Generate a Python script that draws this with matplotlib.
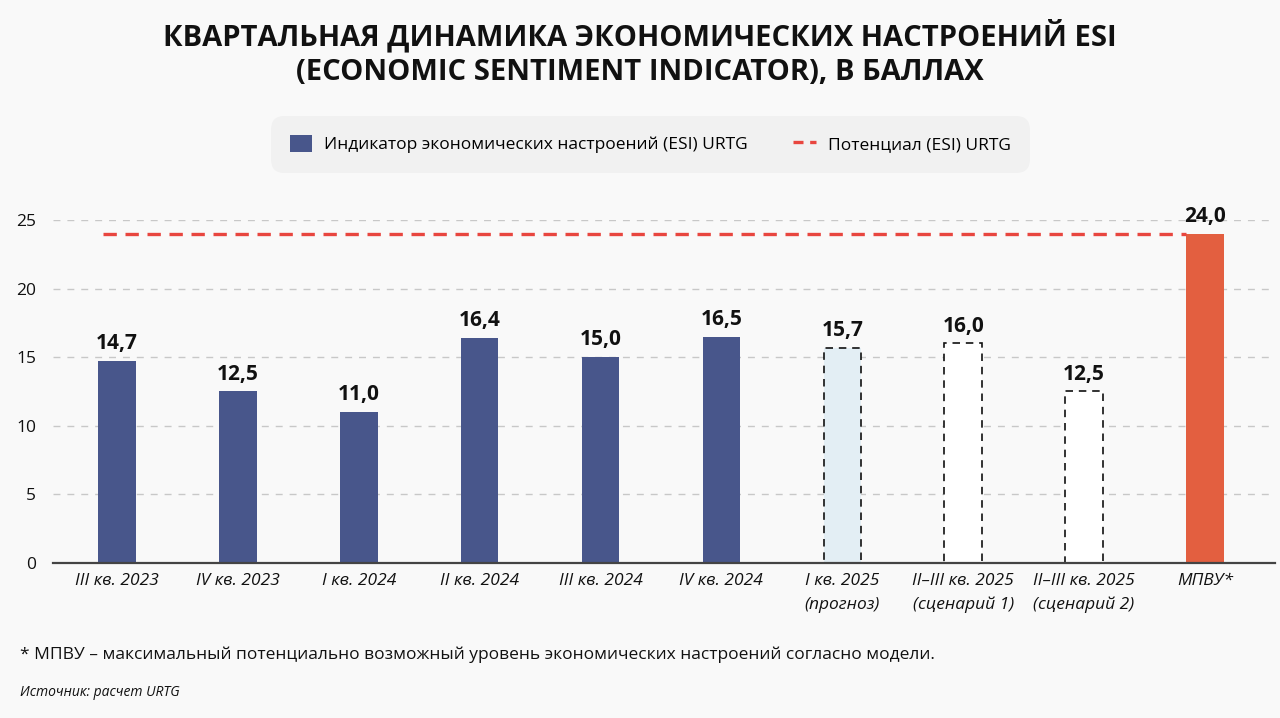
import matplotlib.pyplot as plt
from matplotlib.patches import Patch
from matplotlib.lines import Line2D

plt.rcParams['font.family'] = ['Open Sans', 'DejaVu Sans']

# data
categories = ["III кв. 2023", "IV кв. 2023", "I кв. 2024", "II кв. 2024", "III кв. 2024",
              "IV кв. 2024", "I кв. 2025\n(прогноз)", "II–III кв. 2025\n(сценарий 1)",
              "II–III кв. 2025\n(сценарий 2)", "МПВУ*"]
values = [14.7, 12.5, 11.0, 16.4, 15.0, 16.5, 15.7, 16.0, 12.5, 24.0]
bar_kind = ["fact"] * 6 + ["forecast", "scenario", "scenario", "max"]
potential = 24.0
yticks = [0, 5, 10, 15, 20, 25]

navy = "#48568b"
orange = "#e35f40"
red = "#e8463f"
bg = "#f9f9f9"

fig = plt.figure(figsize=(12.8, 7.18), dpi=100, facecolor=bg)
ax = fig.add_axes([0.0414, 0.2159, 0.9547, 0.4777])
ax.set_facecolor(bg)

x = list(range(len(values)))
w = 0.31
for xi, v, k in zip(x, values, bar_kind):
    if k == "fact":
        ax.bar(xi, v, w, color=navy, zorder=3)
    elif k == "max":
        ax.bar(xi, v, w, color=orange, zorder=3)
    else:
        fc = "#e3eef4" if k == "forecast" else "white"
        ax.bar(xi, v, w, facecolor=fc, edgecolor="#111111", linestyle=(0, (4.5, 3.5)),
               linewidth=1.2, zorder=3)
    ax.annotate(f"{v:.1f}".replace(".", ","), (xi, v), xytext=(0, 5),
                textcoords="offset points", ha="center", va="bottom",
                fontsize=15, fontweight="bold", color="#111111", zorder=5)

ax.hlines(potential, -0.12, 9 - w / 2, colors=red, linestyles=(0, (4, 2.6)),
          linewidth=2.4, zorder=4)

ax.set_xlim(-0.53, 9.58)
ax.set_ylim(0, 25)
ax.set_yticks(yticks)
ax.yaxis.grid(True, color="#c8c8c8", linestyle=(0, (5, 5)), linewidth=1, zorder=0)
ax.set_xticks(x)
ax.set_xticklabels(categories, fontstyle="italic", fontsize=12.5, color="#111111",
                   linespacing=1.65)
ax.tick_params(axis="x", length=0, pad=7)
ax.tick_params(axis="y", length=0, pad=12, labelsize=12.5, labelcolor="#111111")
for s in ["top", "right", "left"]:
    ax.spines[s].set_visible(False)
ax.spines["bottom"].set_color("#444444")
ax.spines["bottom"].set_linewidth(1.6)
ax.spines["bottom"].set_zorder(6)

fig.text(0.5, 0.950, "КВАРТАЛЬНАЯ ДИНАМИКА ЭКОНОМИЧЕСКИХ НАСТРОЕНИЙ ESI",
         ha="center", va="center", fontsize=21, fontweight="bold", color="#111111")
fig.text(0.5, 0.899, "(ECONOMIC SENTIMENT INDICATOR), В БАЛЛАХ",
         ha="center", va="center", fontsize=21, fontweight="bold", color="#111111")

handles = [Patch(facecolor=navy, edgecolor="none"),
           Line2D([0], [0], color=red, linestyle=(0, (3, 2)), linewidth=2.4)]
leg = fig.legend(handles, ["Индикатор экономических настроений (ESI) URTG",
                           "Потенциал (ESI) URTG"],
                 loc="center", bbox_to_anchor=(0.508, 0.799), ncols=2, frameon=True,
                 fancybox=True, fontsize=12.5, handlelength=1.3, handleheight=1.1,
                 columnspacing=2.6, borderpad=0.9, handletextpad=0.7)
leg.get_frame().set_facecolor("#efefef")
leg.get_frame().set_edgecolor("none")
leg.get_frame().set_boxstyle("round", pad=0.2, rounding_size=0.8)

fig.text(0.016, 0.088,
         "* МПВУ – максимальный потенциально возможный уровень экономических настроений согласно модели.",
         ha="left", va="center", fontsize=12.5, color="#111111")
fig.text(0.016, 0.036, "Источник: расчет URTG", ha="left", va="center",
         fontsize=10, fontstyle="italic", color="#111111")

fig.savefig("out.png", dpi=100, facecolor=bg)
